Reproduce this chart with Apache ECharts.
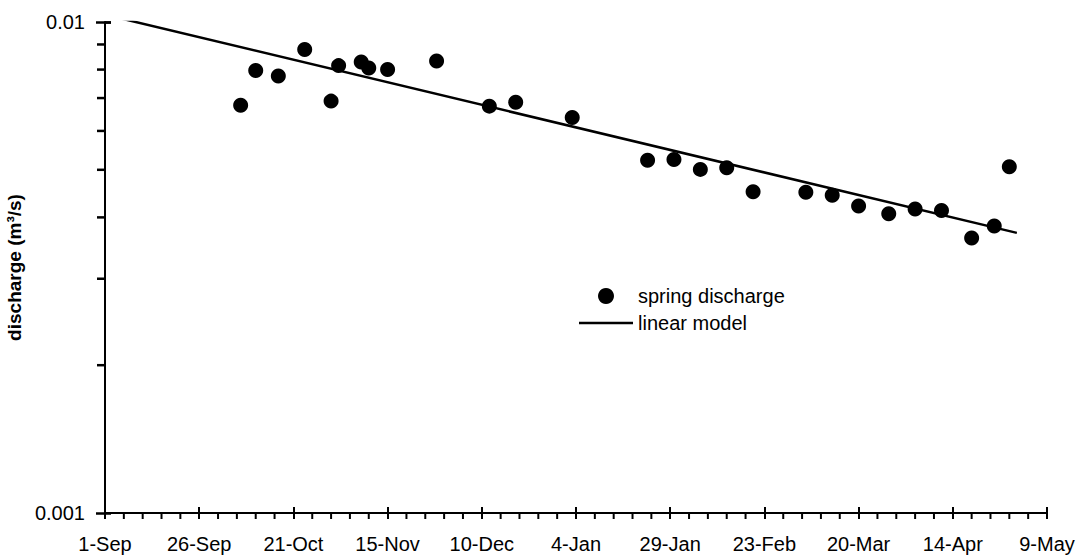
<!DOCTYPE html>
<html>
<head>
<meta charset="utf-8">
<script src="https://cdn.jsdelivr.net/npm/echarts@6/dist/echarts.min.js"></script>
<style>html,body{margin:0;padding:0;background:#fff}#c{width:1089px;height:557px}</style>
</head>
<body>
<div id="c"></div>
<script>
// days after 1-Sep
var dayOffsets = [36, 40, 46, 53, 60, 62, 68, 70, 75, 88, 102, 109, 124, 144, 151, 158, 165, 172, 186, 193, 200, 208, 215, 222, 230, 236, 240];
var discharge = [0.00677, 0.00797, 0.00776, 0.00879, 0.00690, 0.00815, 0.00829, 0.00806, 0.00800, 0.00833, 0.00674, 0.00686, 0.00639, 0.00523, 0.00525, 0.00501, 0.00505, 0.00451, 0.00450, 0.00444, 0.00422, 0.00407, 0.00416, 0.00413, 0.00363, 0.00384, 0.00507];
var modelDays = [0, 242];
var modelValues = [0.01035, 0.00372];
var xTickLabels = ['1-Sep', '26-Sep', '21-Oct', '15-Nov', '10-Dec', '4-Jan', '29-Jan', '23-Feb', '20-Mar', '14-Apr', '9-May'];
var xMinorTickDays = [5, 10, 15, 20, 30, 35, 40, 45, 55, 60, 65, 70, 80, 85, 90, 95, 105, 110, 115, 120, 130, 135, 140, 145, 155, 160, 165, 170, 180, 185, 190, 195, 205, 210, 215, 220, 230, 235, 240, 245];
var yTickValues = [0.001, 0.01];
var yTickLabels = ['0.001', '0.01'];
var yMinorTickValues = [0.002, 0.003, 0.004, 0.005, 0.006, 0.007, 0.008, 0.009];

var FONT = 'Liberation Sans, Arial, Helvetica, sans-serif';
var chart = echarts.init(document.getElementById('c'), null, {renderer: 'svg'});

var scatterData = dayOffsets.map(function (d, i) { return [d, discharge[i]]; });
var lineData = modelDays.map(function (d, i) { return [d, modelValues[i]]; });

function yLabel(v) {
  for (var i = 0; i < yTickValues.length; i++) {
    if (Math.abs(v - yTickValues[i]) / yTickValues[i] < 1e-6) return yTickLabels[i];
  }
  return '';
}

var option = {
  backgroundColor: '#fff',
  animation: false,
  grid: {left: 105, right: 42, top: 22, bottom: 44, containLabel: false, outerBoundsMode: 'none'},
  legend: {
    orient: 'vertical',
    left: 574,
    top: 281,
    itemWidth: 54,
    itemHeight: 16,
    itemGap: 7,
    textStyle: {fontFamily: FONT, fontSize: 20, color: '#000'},
    data: [
      {name: 'spring discharge', icon: 'circle'},
      {name: 'linear model', icon: 'path://M0,0 L54,0 L54,2.5 L0,2.5 Z'}
    ]
  },
  xAxis: [{
    type: 'value',
    min: 0, max: 250, interval: 25,
    axisLine: {show: true, lineStyle: {color: '#000', width: 2}},
    axisTick: {show: true, length: 6, lineStyle: {color: '#000', width: 2}},
    splitLine: {show: false},
    axisLabel: {
      margin: 21, color: '#000', fontFamily: FONT, fontSize: 20,
      formatter: function (v) { return xTickLabels[Math.round(v / 25)] || ''; }
    }
  }, {
    type: 'value', position: 'bottom',
    min: 0, max: 250, interval: 25,
    axisLine: {show: false},
    axisTick: {show: true, inside: true, length: 6, lineStyle: {color: '#000', width: 2}},
    axisLabel: {show: false},
    splitLine: {show: false}
  }],
  yAxis: [{
    type: 'log', logBase: 10,
    min: 0.001, max: 0.01,
    name: 'discharge (m\u00B3/s)',
    nameLocation: 'middle',
    nameGap: 77,
    nameTextStyle: {fontFamily: FONT, fontSize: 19, fontWeight: 'bold', color: '#000'},
    axisLine: {show: true, lineStyle: {color: '#000', width: 2}},
    axisTick: {show: true, length: 9, lineStyle: {color: '#000', width: 2.5}},
    splitLine: {show: false},
    axisLabel: {margin: 20, color: '#000', fontFamily: FONT, fontSize: 20, formatter: yLabel}
  }, {
    type: 'log', logBase: 10, position: 'left',
    min: 0.001, max: 0.01,
    axisLine: {show: false},
    axisTick: {show: true, inside: true, length: 6, lineStyle: {color: '#000', width: 2.5}},
    axisLabel: {show: false},
    splitLine: {show: false}
  }],
  series: [
    {
      name: 'spring discharge',
      type: 'scatter',
      data: scatterData,
      symbol: 'circle',
      symbolSize: 15,
      itemStyle: {color: '#000', opacity: 1},
      z: 3
    },
    {
      name: 'linear model',
      type: 'line',
      data: lineData,
      showSymbol: false,
      symbol: 'none',
      lineStyle: {color: '#000', width: 2.5},
      itemStyle: {color: '#000'},
      z: 2
    },
    {
      name: 'x minor ticks',
      type: 'scatter',
      data: xMinorTickDays.map(function (d) { return [d, 0.001]; }),
      symbol: 'rect',
      symbolSize: [2, 5],
      symbolOffset: [0, 3.5],
      itemStyle: {color: '#000', opacity: 1},
      silent: true,
      clip: false,
      z: 4
    }
  ]
};
chart.setOption(option);

// y-axis minor ticks (log positions 2..9 x 0.001), placed through the axis scale
var x0 = chart.convertToPixel({xAxisIndex: 0}, 0);
var tickGraphics = yMinorTickValues.map(function (v) {
  var y = chart.convertToPixel({yAxisIndex: 0}, v);
  return {
    type: 'line',
    silent: true,
    z: 100,
    shape: {x1: x0 - 8, y1: y, x2: x0, y2: y},
    style: {stroke: '#000', lineWidth: 2.5}
  };
});
chart.setOption({graphic: tickGraphics});
</script>
</body>
</html>
